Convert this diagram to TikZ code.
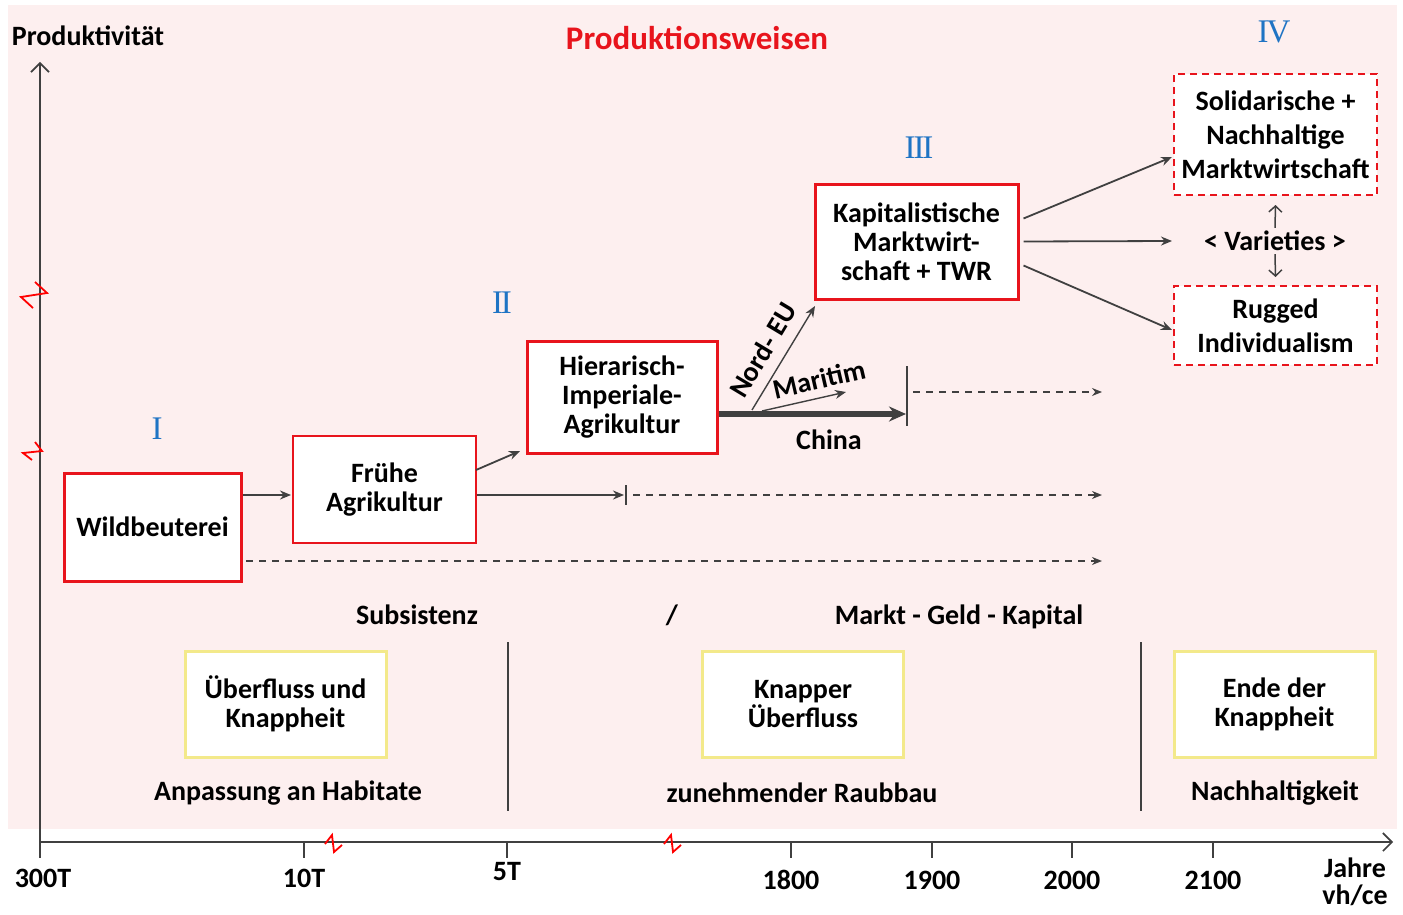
\documentclass[tikz,border=0pt]{standalone}
\usepackage{fontspec}
\setmainfont{Carlito}
\newfontfamily\numfont{Liberation Serif}
\usetikzlibrary{arrows.meta,calc}
\definecolor{bgpink}{HTML}{FDEFEF}
\definecolor{boxred}{HTML}{E8141C}
\definecolor{dgray}{HTML}{404040}
\definecolor{numblue}{HTML}{1F74C4}
\definecolor{ybord}{HTML}{F3E98A}
\newcommand{\rk}{\kern-2.2pt}
\tikzset{
  txt/.style={font=\fontsize{28}{29}\selectfont\bfseries, text=black, align=center, inner sep=0pt},
  redbox/.style={draw=boxred, line width=3pt, fill=white, txt},
  thinred/.style={draw=boxred, line width=1.5pt, fill=white, txt},
  dashbox/.style={draw=boxred, line width=1.5pt, dash pattern=on 7pt off 5pt, fill=white, txt},
  ybox/.style={draw=ybord, line width=3pt, fill=white, txt, minimum width=201pt, minimum height=106pt},
  num/.style={font=\numfont\fontsize{33}{33}\selectfont, text=numblue, inner sep=0pt},
  arr/.style={draw=dgray, line width=1.8pt, -{Stealth[length=11pt,width=9pt]}},
  darr/.style={draw=dgray, line width=1.5pt, dash pattern=on 7pt off 6pt, -{Stealth[length=10pt,width=8pt]}},
  axis/.style={draw=dgray, line width=2.2pt, -{Straight Barb[length=9pt,width=18pt,line width=1.6pt]}},
  vline/.style={draw=dgray, line width=2pt},
  brk/.style={draw=red, line width=1.8pt},
  small/.style={draw=dgray, line width=1.5pt, -{Straight Barb[length=6pt,width=13pt]}},
}
\begin{document}
\begin{tikzpicture}[x=1pt,y=-1pt]
\useasboundingbox (0,0) rectangle (1403,915);
\fill[white] (0,0) rectangle (1403,915);
\fill[bgpink] (8,5) rectangle (1397,829);

% axes
\coordinate (o) at (40,842);
\coordinate (ytop) at (40,62);
\coordinate (xend) at (1393,842);
\draw[axis] (o) -- (ytop);
\draw[axis] (o) -- (xend);
\node[txt, anchor=center] (ylab) at (88,36) {Produktivität};
\node[txt, font=\fontsize{33}{34}\selectfont\bfseries, text=boxred] (title) at (697,38) {Produktionsweisen};

% ticks and labels
\foreach \x in {40, 304, 507, 791, 932, 1072, 1213}{
  \draw[vline] (\x,842) -- (\x,858);
}
\node[txt] (t300) at (43,878) {300T};
\node[txt] (t10) at (304,878) {10T};
\node[txt] (t5) at (507,872) {5T};
\node[txt] (t1800) at (791,880) {1800};
\node[txt] (t1900) at (932,880) {1900};
\node[txt] (t2000) at (1072,880) {2000};
\node[txt] (t2100) at (1213,880) {2100};
\node[txt] (jahre) at (1355,868) {Jahre};
\node[txt] (vhce) at (1355,895) {vh/ce};

% break marks
\draw[brk] (35,282) -- (47,293) -- (21,297) -- (33,308);
\draw[brk] (35,442) -- (42,451) -- (23,453) -- (32,460);
\draw[brk] (325,844) -- (332,835) -- (334,852) -- (342,845);
\draw[brk] (664,844) -- (671,835) -- (673,852) -- (681,845);

% roman numerals
\node[num] (n1) at (157,429) {I};
\node[num] (n2) at (502,303) {I\rk I};
\node[num] (n3) at (919,148) {I\rk I\rk I};
\node[num] (n4) at (1274,32) {I\rk V};

% boxes
\node[redbox, minimum width=177pt, minimum height=108pt] (wb) at (152.5,527) {Wildbeuterei};
\node[thinred, minimum width=183pt, minimum height=107pt] (fa) at (384.5,489.5) {Frühe\\Agrikultur};
\node[redbox, minimum width=190pt, minimum height=112pt] (hi) at (622,397) {Hierarisch-\\Imperiale-\\Agrikultur};
\node[redbox, minimum width=203pt, minimum height=115pt] (kap) at (916.5,241.5) {Kapitalistische\\Marktwirt-\\schaft + TWR};
\node[dashbox, minimum width=203pt, minimum height=121pt] (sol) at (1275.5,134.5) {Solidarische +\\[5pt]Nachhaltige\\[5pt]Marktwirtschaft};
\node[dashbox, minimum width=203pt, minimum height=79pt] (rug) at (1275.5,325.5) {Rugged\\[5pt]Individualism};
\node[txt] (var) at (1275,241) {< Varieties >};

% connectors
\coordinate (a1) at (291,495);
\draw[arr] (wb.east |- a1) -- (a1);
\coordinate (a2s) at (476,470);
\coordinate (a2e) at (520,451);
\draw[arr] (a2s) -- (a2e);
\coordinate (a3) at (624,495);
\draw[arr] (fa.east |- a3) -- (a3);
\coordinate (b1t) at (626,485);
\coordinate (b1b) at (626,505);
\draw[vline] (b1t) -- (b1b);
\coordinate (d2s) at (633,495);
\coordinate (d2e) at (1102,495);
\draw[darr] (d2s) -- (d2e);
\coordinate (d1s) at (246,561);
\coordinate (d1e) at (1102,561);
\draw[darr] (d1s) -- (d1e);

\coordinate (c1) at (906,414);
\draw[draw=dgray, line width=6pt, -{Stealth[length=17pt,width=15pt]}] (hi.east |- c1) -- (c1);
\coordinate (b2t) at (907,366);
\coordinate (b2b) at (907,426);
\draw[vline] (b2t) -- (b2b);
\coordinate (d3s) at (913,392);
\coordinate (d3e) at (1102,392);
\draw[darr] (d3s) -- (d3e);
\node[txt] (china) at (829,440) {China};

\coordinate (ms) at (762,411);
\coordinate (me) at (846,392);
\draw[arr, line width=1.4pt] (ms) -- (me);
\node[txt, rotate=13] (mar) at (819,379) {Maritim};
\coordinate (ns) at (752,410);
\coordinate (ne) at (815,306);
\draw[arr, line width=1.4pt] (ns) -- (ne);
\node[txt, rotate=59] (neu) at (763,350) {Nord- EU};

\coordinate (k1) at (1172,157);
\coordinate (k2) at (1172,241);
\coordinate (k3) at (1172,330);
\draw[arr] ($(kap.east)+(4,-23)$) -- (k1);
\draw[arr] ($(kap.east)+(4,0)$) -- (k2);
\draw[arr] ($(kap.east)+(4,24)$) -- (k3);
\draw[small] (var.north) ++(0,-3) coordinate (vu) -- (sol.south |- 0,205);
\draw[small] (var.south) ++(0,3) coordinate (vd) -- (rug.north |- 0,277);

% bottom section
\node[txt] (subs) at (417,615) {Subsistenz};
\node[txt] (slash) at (672,615) {/};
\node[txt] (mgk) at (959,617) {Markt - Geld - Kapital};
\coordinate (v1t) at (508,642);
\coordinate (v1b) at (508,811);
\coordinate (v2t) at (1141,642);
\coordinate (v2b) at (1141,811);
\draw[vline] (v1t) -- (v1b);
\draw[vline] (v2t) -- (v2b);
\node[ybox] (y1) at (285.5,704) {Überfluss und\\Knappheit};
\node[ybox] (y2) at (803,704) {Knapper\\Überfluss};
\node[ybox] (y3) at (1274.5,704) {Ende der\\Knappheit};
\node[txt] (anp) at (288,793) {Anpassung an Habitate};
\node[txt] (rau) at (802,793) {zunehmender Raubbau};
\node[txt] (nach) at (1275,793) {Nachhaltigkeit};
\end{tikzpicture}
\end{document}
